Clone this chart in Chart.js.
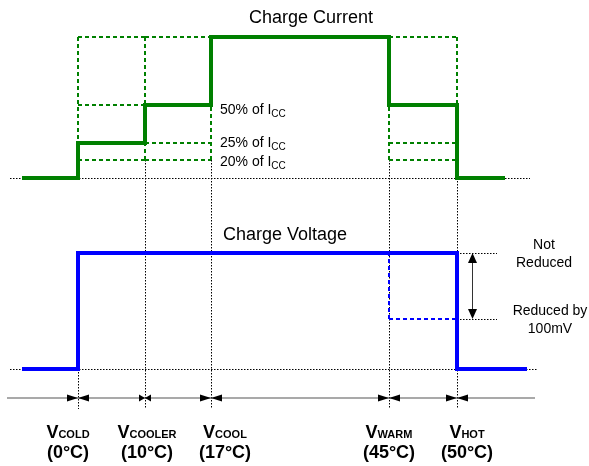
<!DOCTYPE html>
<html>
<head>
<meta charset="utf-8">
<title>Charge current and voltage vs. temperature</title>
<script src="https://cdn.jsdelivr.net/npm/chart.js@4.4.1/dist/chart.umd.min.js"></script>
<style>
  html, body { margin: 0; padding: 0; background: #fff; }
  canvas { display: block; }
</style>
</head>
<body>
<canvas id="profile" width="589" height="466"></canvas>
<script>
// battery temperature thresholds (°C)
const thresholdNames = ['COLD', 'COOLER', 'COOL', 'WARM', 'HOT'];
const thresholdTemps = [0, 10, 17, 45, 50];

// one entry per zone: <COLD, COLD-COOLER, COOLER-COOL, COOL-WARM, WARM-HOT, >HOT
const chargeCurrent = [0, 25, 50, 100, 50, 0];            // % of ICC
const currentChoices = [null, [100, 50, 25, 20], [100, 50, 25, 20], null, [100, 50, 25, 20], null];
const currentTags = [50, 25, 20];

const voltageLevels = [['Off'], ['Reduced by', '100mV'], ['Not', 'Reduced']];
const chargeVoltage = [0, 2, 2, 2, 2, 0];                 // index into voltageLevels
const voltageChoices = [null, null, null, null, [2, 1], null];

// temperature extent of each trace
const currentSpan = [-10, 55];
const voltageSpan = [-10, 60];

// schematic axes: value -> position on a 589 x 466 sheet
const SHEET_W = 589, SHEET_H = 466;
const axisStops = {
  x:  [[-10, 22], [0, 78], [10, 145], [17, 211], [45, 389], [50, 457], [55, 505], [60, 527]],
  yI: [[0, 178], [20, 160], [25, 143], [50, 105], [100, 37]],
  yV: [[0, 369], [1, 319], [2, 253]]
};
const AXIS_Y = 398;
const FONT = '"Liberation Sans", Arial, sans-serif';

class PiecewiseScale extends Chart.LinearScale {
  getPixelForValue(value) {
    const area = this.chart.chartArea;
    if (!area) return 0;
    const stops = axisStops[this.id];
    let i = 1;
    while (i < stops.length - 1 && value > stops[i][0]) i++;
    const [v0, p0] = stops[i - 1];
    const [v1, p1] = stops[i];
    const p = p0 + (value - v0) / (v1 - v0) * (p1 - p0);
    return this.isHorizontal()
      ? area.left + p / SHEET_W * (area.right - area.left)
      : area.top + p / SHEET_H * (area.bottom - area.top);
  }
}
PiecewiseScale.id = 'piecewise';
Chart.register(PiecewiseScale);

function zoneEdges(span) {
  return [span[0], ...thresholdTemps, span[1]];
}

function stepPoints(levels, span) {
  const edges = zoneEdges(span);
  const pts = levels.map((v, k) => ({ x: edges[k], y: v }));
  pts.push({ x: edges[edges.length - 1], y: levels[levels.length - 1] });
  return pts;
}

// dashed outline of the selectable levels inside a zone
function choiceFrames(choices, span) {
  const edges = zoneEdges(span);
  const pts = [];
  choices.forEach((c, k) => {
    if (!c) return;
    const a = edges[k], b = edges[k + 1];
    const lo = Math.min(...c), hi = Math.max(...c);
    const segs = [[a, lo, a, hi], [b, lo, b, hi], ...c.map(v => [a, v, b, v])];
    segs.forEach(([x0, y0, x1, y1]) => {
      pts.push({ x: x0, y: y0 }, { x: x1, y: y1 }, { x: x1, y: null });
    });
  });
  return pts;
}

function segment(ctx, x0, y0, x1, y1) {
  ctx.beginPath();
  ctx.moveTo(x0, y0);
  ctx.lineTo(x1, y1);
  ctx.stroke();
}

function drawRich(ctx, parts, cx, y) {
  let w = 0;
  parts.forEach(p => { ctx.font = p.font; w += ctx.measureText(p.text).width; });
  let x = cx - w / 2;
  parts.forEach(p => {
    ctx.font = p.font;
    ctx.fillText(p.text, x, y + (p.dy || 0));
    x += ctx.measureText(p.text).width;
  });
}

function arrowHead(ctx, tipX, tipY, dx, dy, len, half) {
  // dx, dy: unit direction the arrow points to
  const bx = tipX - dx * len, by = tipY - dy * len;
  ctx.beginPath();
  ctx.moveTo(tipX, tipY);
  ctx.lineTo(bx - dy * half, by + dx * half);
  ctx.lineTo(bx + dy * half, by - dx * half);
  ctx.closePath();
  ctx.fill();
}

const guides = {
  id: 'guides',
  beforeDatasetsDraw(chart) {
    const { ctx, scales } = chart;
    const px = t => scales.x.getPixelForValue(t);
    const snap = v => Math.round(v) + 0.5;
    ctx.save();
    ctx.strokeStyle = '#000';
    ctx.lineWidth = 1;
    ctx.setLineDash([1.5, 1.5]);

    // zero lines of both panels
    const yI0 = snap(scales.yI.getPixelForValue(0));
    segment(ctx, px(currentSpan[0]) - 12, yI0, px(currentSpan[1]) + 25, yI0);
    const yV0 = snap(scales.yV.getPixelForValue(0));
    segment(ctx, px(voltageSpan[0]) - 12, yV0, px(voltageSpan[1]) + 11, yV0);

    // voltage level references beside the HOT edge
    const xHot = px(thresholdTemps[4]);
    [1, 2].forEach(l => {
      const y = snap(scales.yV.getPixelForValue(l));
      segment(ctx, xHot, y, xHot + 40, y);
    });

    // threshold drop lines down to the temperature axis
    const tops = [['yV', 0], ['yI', 20], ['yI', 20], ['yI', 20], ['yI', 0]];
    thresholdTemps.forEach((t, k) => {
      const x = snap(px(t));
      const [id, v] = tops[k];
      segment(ctx, x, scales[id].getPixelForValue(v), x, AXIS_Y + 11);
    });
    ctx.restore();
  }
};

const labels = {
  id: 'labels',
  afterDatasetsDraw(chart) {
    const { ctx, scales } = chart;
    const px = t => scales.x.getPixelForValue(t);
    const yI = v => scales.yI.getPixelForValue(v);
    const yV = v => scales.yV.getPixelForValue(v);
    ctx.save();

    // temperature axis with dimension arrows
    ctx.strokeStyle = '#555';
    ctx.lineWidth = 1.2;
    segment(ctx, 7, AXIS_Y, px(voltageSpan[1]) + 8, AXIS_Y);
    ctx.fillStyle = '#000';
    const arrowLen = [11, 6, 11, 11, 11];
    thresholdTemps.forEach((t, k) => {
      const x = px(t);
      arrowHead(ctx, x, AXIS_Y, 1, 0, arrowLen[k], 3.5);
      arrowHead(ctx, x, AXIS_Y, -1, 0, arrowLen[k], 3.5);
    });

    // threshold names and temperatures
    ctx.textBaseline = 'alphabetic';
    ctx.textAlign = 'left';
    const shift = [-10, 2, 14, 0, 10];
    thresholdTemps.forEach((t, k) => {
      const cx = px(t) + shift[k];
      drawRich(ctx, [
        { text: 'V', font: 'bold 18px ' + FONT },
        { text: thresholdNames[k], font: 'bold 11px ' + FONT }
      ], cx, 438);
      drawRich(ctx, [{ text: '(' + t + '°C)', font: 'bold 18px ' + FONT }], cx, 458);
    });

    // panel titles
    ctx.font = '18px ' + FONT;
    ctx.textAlign = 'center';
    ctx.fillText('Charge Current', 311, yI(100) - 14);
    ctx.fillText('Charge Voltage', 285, yV(2) - 13);

    // current level tags
    ctx.textAlign = 'left';
    const tagDy = [9, 4, 6];
    currentTags.forEach((v, k) => {
      const x = px(thresholdTemps[2]) + 9;
      const y = yI(v) + tagDy[k];
      ctx.font = '14px ' + FONT;
      const head = v + '% of I';
      ctx.fillText(head, x, y);
      const w = ctx.measureText(head).width;
      ctx.font = '10px ' + FONT;
      ctx.fillText('CC', x + w, y + 3);
    });

    // voltage level notes
    ctx.font = '14px ' + FONT;
    ctx.textAlign = 'center';
    const xHot = px(thresholdTemps[4]);
    const noteX = { 1: xHot + 93, 2: xHot + 87 };
    [2, 1].forEach(l => {
      const [a, b] = voltageLevels[l];
      ctx.fillText(a, noteX[l], yV(l) - 4.5);
      ctx.fillText(b, noteX[l], yV(l) + 13.5);
    });

    // reduction span arrow
    const ax = Math.round(xHot + 15) + 0.5;
    ctx.strokeStyle = '#333';
    ctx.lineWidth = 1;
    segment(ctx, ax, yV(2) + 8, ax, yV(1) - 8);
    arrowHead(ctx, ax, yV(2), 0, -1, 10, 4.5);
    arrowHead(ctx, ax, yV(1), 0, 1, 10, 4.5);
    ctx.restore();
  }
};

const lineStyle = { pointRadius: 0, fill: false, tension: 0, borderCapStyle: 'butt', borderJoinStyle: 'miter' };

new Chart(document.getElementById('profile'), {
  type: 'line',
  data: {
    datasets: [
      {
        label: 'Charge current',
        data: stepPoints(chargeCurrent, currentSpan),
        yAxisID: 'yI',
        stepped: true,
        borderColor: '#008000',
        borderWidth: 4,
        ...lineStyle
      },
      {
        label: 'Charge voltage',
        data: stepPoints(chargeVoltage, voltageSpan),
        yAxisID: 'yV',
        stepped: true,
        borderColor: '#0000ff',
        borderWidth: 4,
        ...lineStyle
      },
      {
        label: 'Current options',
        data: choiceFrames(currentChoices, currentSpan),
        yAxisID: 'yI',
        borderColor: '#008000',
        borderWidth: 2,
        borderDash: [4, 3],
        ...lineStyle
      },
      {
        label: 'Voltage options',
        data: choiceFrames(voltageChoices, voltageSpan),
        yAxisID: 'yV',
        borderColor: '#0000ff',
        borderWidth: 2,
        borderDash: [4, 3],
        ...lineStyle
      }
    ]
  },
  options: {
    responsive: false,
    animation: false,
    events: [],
    layout: { padding: 0 },
    plugins: { legend: { display: false }, tooltip: { enabled: false } },
    scales: {
      x: { type: 'piecewise', display: false },
      yI: { type: 'piecewise', position: 'left', display: false },
      yV: { type: 'piecewise', position: 'left', display: false }
    }
  },
  plugins: [guides, labels]
});
</script>
</body>
</html>
